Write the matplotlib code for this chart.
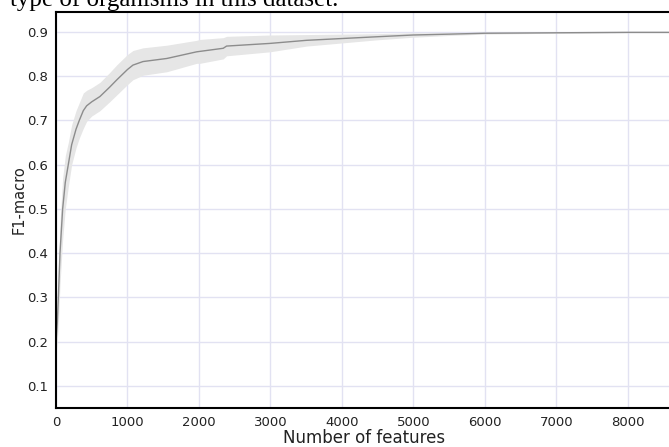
import numpy as np
import matplotlib.pyplot as plt

# values
n_features = [5, 18, 33, 56, 93, 130, 172, 219, 280, 326, 382, 429, 500, 615,
              750, 853, 1000, 1077, 1217, 1552, 1968, 2014, 2340, 2387, 2993,
              3506, 3996, 4485, 4998, 5510, 6000, 7000, 8000, 8620]
f1_mean = [0.21, 0.242, 0.30, 0.40, 0.50, 0.56, 0.60, 0.645, 0.68, 0.70, 0.722,
           0.733, 0.742, 0.754, 0.775, 0.792, 0.815, 0.825, 0.833, 0.840, 0.855,
           0.856, 0.863, 0.868, 0.874, 0.881, 0.885, 0.889, 0.893, 0.895, 0.897,
           0.898, 0.899, 0.899]
f1_std = [0.03, 0.04, 0.06, 0.07, 0.07, 0.06, 0.05, 0.045, 0.042, 0.04, 0.04,
          0.035, 0.032, 0.032, 0.033, 0.034, 0.034, 0.033, 0.031, 0.03, 0.026,
          0.027, 0.024, 0.022, 0.019, 0.013, 0.01, 0.007, 0.005, 0.003, 0.002,
          0.001, 0.001, 0.001]

x = np.array(n_features)
m = np.array(f1_mean)
s = np.array(f1_std)

fig = plt.figure(figsize=(6.69, 4.47), dpi=100)
ax = fig.add_axes([56/669, 39/447, 616/669, 396/447])

ax.fill_between(x, m - s, m + s, color="#e6e6e6", linewidth=0)
ax.plot(x, m, color="#8c8c8c", linewidth=1.0)

ax.set_xlim(0, 8620)
ax.set_ylim(0.05, 0.945)
ax.set_xticks(np.arange(0, 9000, 1000))
ax.set_yticks([0.1, 0.2, 0.3, 0.4, 0.5, 0.6, 0.7, 0.8, 0.9])
ax.grid(True, color="#e2e2f2", linewidth=1.0)
ax.set_axisbelow(True)
ax.tick_params(length=0, labelsize=9.5, colors="#222222", pad=6)
for side in ["left", "bottom", "top"]:
    ax.spines[side].set_linewidth(1.5)
    ax.spines[side].set_color("black")
ax.spines["right"].set_visible(False)

ax.set_xlabel("Number of features", fontsize=12, color="#222222", va="baseline")
ax.xaxis.set_label_coords(0.5008, -0.0884)
ax.set_ylabel("F1-macro", fontsize=10.5, color="#222222", va="center")
ax.yaxis.set_label_coords(-0.060, 0.525)

# caption text of the page, cut off at the top
fig.text(10/669, 1 - 6/447, "type of organisms in this dataset.",
         family="Liberation Serif", fontsize=18, va="baseline", ha="left")

fig.savefig("out.png", dpi=100)
